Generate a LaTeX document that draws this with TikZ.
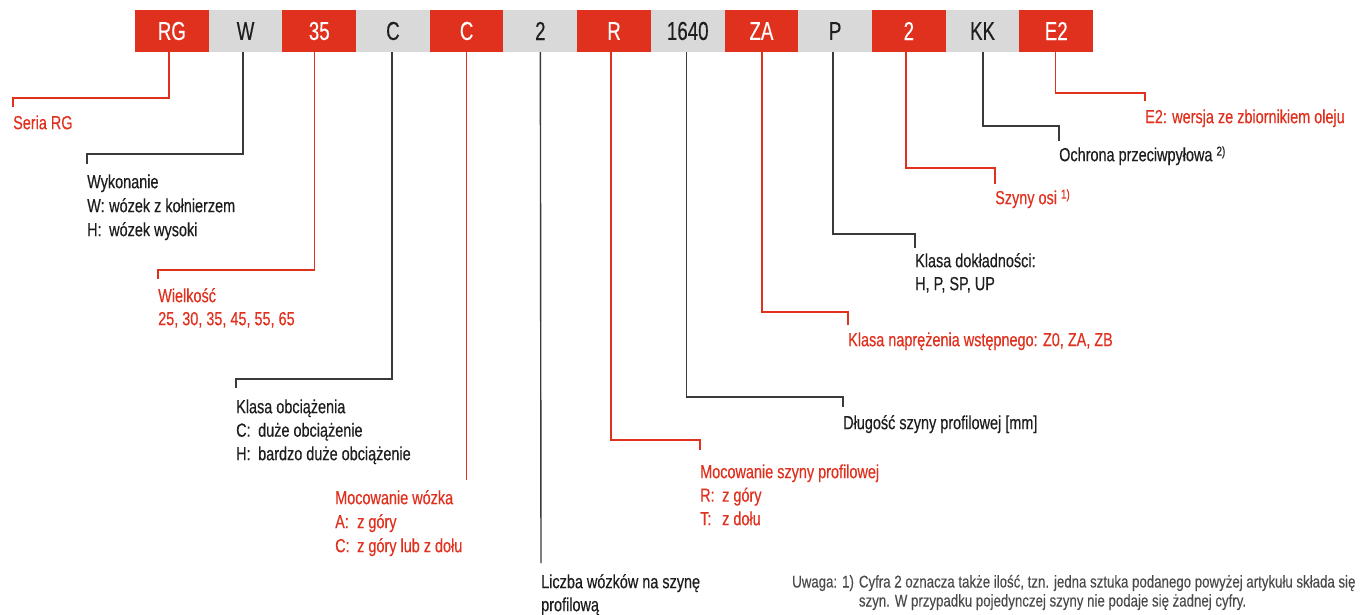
\documentclass[tikz,border=0pt]{standalone}
\usepackage{fontspec}
\setmainfont[FakeStretch=0.76,FakeBold=0.4]{Liberation Sans}
\newfontfamily\barfont[FakeStretch=0.72,FakeBold=0.3]{Liberation Sans}
\newfontfamily\notefont[FakeStretch=0.78,FakeBold=0.2]{Liberation Sans}
\definecolor{rgred}{HTML}{E0301E}
\definecolor{cellgray}{HTML}{D9D9D9}
\definecolor{ink}{HTML}{1E1E1E}
\definecolor{lead}{HTML}{3A3A3A}
\definecolor{notegray}{HTML}{4A4A4A}
\newcommand\lstrut{\rule{0pt}{15pt}}
\newcommand\tagbox[1]{\makebox[22pt][l]{#1}}
\newcommand\supnote[1]{\raisebox{5.5pt}{\fontsize{13}{13}\selectfont #1}}
\begin{document}
\begin{tikzpicture}[x=1pt,y=-1pt,
 cell/.style={minimum width=73.8pt,minimum height=42pt,inner sep=0pt,font=\barfont\fontsize{26}{26}\selectfont},
 redcell/.style={cell,fill=rgred,text=white},
 graycell/.style={cell,fill=cellgray,text=ink},
 lab/.style={anchor=north west,inner sep=0pt,align=left,font=\fontsize{19}{23.5}\selectfont},
 redlab/.style={lab,text=rgred},
 blklab/.style={lab,text=ink},
 redlead/.style={draw=rgred,line width=1.4pt},
 blklead/.style={draw=lead,line width=1.4pt},
]
\useasboundingbox (0,0) rectangle (1370,615);
% code bar
\node[redcell]  (c1)  at (171.85,31) {RG};
\node[graycell] (c2)  at (245.55,31) {W};
\node[redcell]  (c3)  at (319.25,31) {35};
\node[graycell] (c4)  at (392.95,31) {C};
\node[redcell]  (c5)  at (466.65,31) {C};
\node[graycell] (c6)  at (540.35,31) {2};
\node[redcell]  (c7)  at (614.05,31) {R};
\node[graycell] (c8)  at (687.75,31) {1640};
\node[redcell]  (c9)  at (761.45,31) {ZA};
\node[graycell] (c10) at (835.15,31) {P};
\node[redcell]  (c11) at (908.85,31) {2};
\node[graycell] (c12) at (982.55,31) {KK};
\node[redcell]  (c13) at (1056.25,31) {E2};
% labels
\node[redlab] (l1) at (13,114) {\lstrut Seria RG};
\node[blklab,font=\fontsize{19}{24}\selectfont] (l2) at (87,173) {\lstrut Wykonanie\\\tagbox{W:}wózek z kołnierzem\\\tagbox{H:}wózek wysoki};
\node[redlab,font=\fontsize{19}{23}\selectfont] (l3) at (158,287) {\lstrut Wielkość\\25, 30, 35, 45, 55, 65};
\node[blklab] (l4) at (236,398) {\lstrut Klasa obciążenia\\\tagbox{C:}duże obciążenie\\\tagbox{H:}bardzo duże obciążenie};
\node[redlab,font=\fontsize{19}{24}\selectfont] (l5) at (335,489) {\lstrut Mocowanie wózka\\\tagbox{A:}z góry\\\tagbox{C:}z góry lub z dołu};
\node[blklab,font=\fontsize{19}{23}\selectfont] (l6) at (541,573) {\lstrut Liczba wózków na szynę\\profilową};
\node[redlab] (l7) at (700,463) {\lstrut Mocowanie szyny profilowej\\\tagbox{R:}z góry\\\tagbox{T:}z dołu};
\node[blklab] (l8) at (843,414) {\lstrut Długość szyny profilowej [mm]};
\node[redlab] (l9) at (848,331) {\lstrut Klasa naprężenia wstępnego: Z0, ZA, ZB};
\node[blklab,font=\fontsize{19}{23}\selectfont] (l10) at (915,252) {\lstrut Klasa dokładności:\\H, P, SP, UP};
\node[redlab] (l11) at (995,189) {\lstrut Szyny osi \supnote{1)}};
\node[blklab] (l12) at (1059,146) {\lstrut Ochrona przeciwpyłowa \supnote{2)}};
\node[redlab] (l13) at (1145,108) {\lstrut E2: wersja ze zbiornikiem oleju};
% note
\node[anchor=north west,inner sep=0pt,text=notegray,font=\notefont\fontsize{17}{19}\selectfont] (note) at (792,574)
 {\begin{tabular}{@{}l@{\hspace{5pt}}l@{\hspace{5pt}}l@{}}
 Uwaga: & 1) & Cyfra 2 oznacza także ilość, tzn. jedna sztuka podanego powyżej artykułu składa się\\
 & & szyn. W przypadku pojedynczej szyny nie podaje się żadnej cyfry.
 \end{tabular}};
% leaders
\draw[redlead] ([xshift=-3pt]c1.south) |- (l1.north west |- 0,98) -- ([yshift=7pt]l1.north west);
\draw[blklead] ([xshift=-2.5pt]c2.south) |- (l2.north west |- 0,154) -- ([yshift=9pt]l2.north west);
\draw[redlead] ([xshift=-5pt]c3.south) |- (l3.north west |- 0,270) -- ([yshift=8pt]l3.north west);
\draw[blklead] ([xshift=-1pt]c4.south) |- (l4.north west |- 0,379) -- ([yshift=10pt]l4.north west);
\draw[redlead] (c5.south) -- (c5.south |- 0,480);
\draw[blklead] (c6.south) -- ([yshift=10pt]l6.north west);
\draw[redlead] ([xshift=-3pt]c7.south) |- (l7.north west |- 0,440) -- ([yshift=13pt]l7.north west);
\draw[blklead] ([xshift=-1pt]c8.south) |- (l8.north west |- 0,397) -- ([yshift=7pt]l8.north west);
\draw[redlead] ([xshift=0.5pt]c9.south) |- (l9.north west |- 0,312) -- ([yshift=6pt]l9.north west);
\draw[blklead] ([xshift=-2pt]c10.south) |- (l10.north west |- 0,234) -- ([yshift=4pt]l10.north west);
\draw[redlead] ([xshift=-3pt]c11.south) |- (l11.north west |- 0,168) -- ([yshift=5pt]l11.north west);
\draw[blklead] ([xshift=0.5pt]c12.south) |- (l12.north west |- 0,126) -- ([yshift=5pt]l12.north west);
\draw[redlead] ([xshift=-1pt]c13.south) |- (l13.north west |- 0,93) -- ([yshift=7pt]l13.north west);
\end{tikzpicture}
\end{document}
